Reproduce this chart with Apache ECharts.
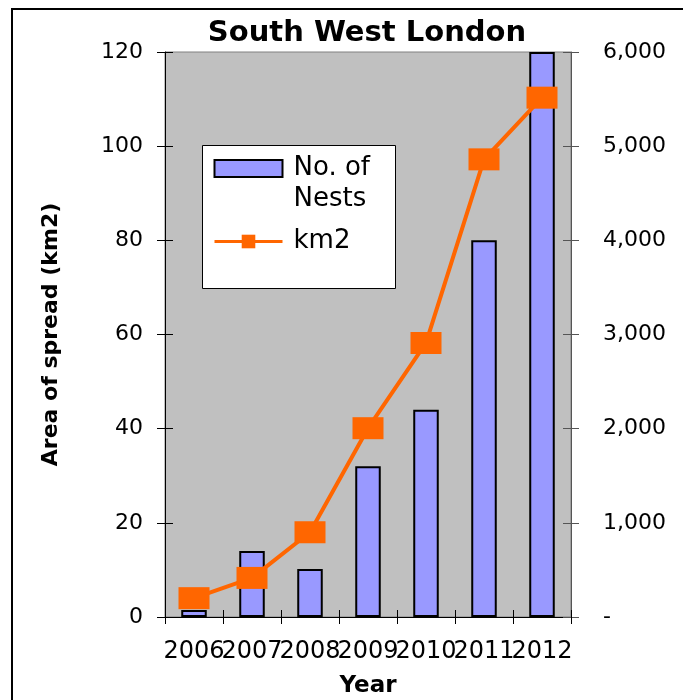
<html>
<head>
	<meta charset="utf-8">
	<style>html, body { margin: 0; padding: 0; background: #fff; }</style>
</head>
<body>
	<div id="main" style="width: 683px; height: 700px;"></div>
	<script src="https://cdn.jsdelivr.net/npm/echarts@6/dist/echarts.min.js"></script>
	<script>
		// data
		var years = ['2006', '2007', '2008', '2009', '2010', '2011', '2012'];
		var nests = [74, 700, 510, 1600, 2200, 4000, 6000];      // right axis
		var area = [4.0, 8.3, 18.0, 40.1, 58.2, 97.2, 110.3];    // left axis, km2
		var leftTicks = { min: 0, max: 120, interval: 20 };
		var rightTicks = { min: 0, max: 6000, interval: 1000 };

		var FONT = 'DejaVu Sans';
		var myChart = echarts.init(document.getElementById('main'), null, { renderer: 'canvas' });

		function tickAxis(pos, t) {
			// extra axis that only draws the inner half of the crossing ticks
			return {
				type: 'value', position: pos, min: t.min, max: t.max, interval: t.interval,
				axisLine: { show: false },
				axisTick: { show: true, inside: true, length: 8, lineStyle: { color: pos == 'left' ? '#000' : '#555' } },
				axisLabel: { show: false },
				splitLine: { show: false }
			};
		}

		var option = {
			animation: false,
			title: {
				text: 'South West London',
				left: 362, top: 14, textAlign: 'center',
				textStyle: { fontFamily: FONT, fontWeight: 'bold', fontSize: 29, color: '#000' }
			},
			graphic: [
				{ type: 'rect', shape: { x: 12, y: 9, width: 700, height: 720 }, style: { fill: null, stroke: '#000', lineWidth: 2 }, z: 0 },
				{ type: 'rect', shape: { x: 202.5, y: 145.5, width: 193, height: 143 }, style: { fill: '#fff', stroke: '#000', lineWidth: 1 }, z: 3 }
			],
			legend: {
				orient: 'vertical', left: 208, top: 117, z: 5,
				itemWidth: 68, itemHeight: 17, itemGap: 11,
				textStyle: { fontFamily: FONT, fontSize: 26, color: '#000', lineHeight: 31, padding: [0, 0, 0, 6] },
				data: [
					{ name: 'No. of Nests', icon: 'rect' },
					{ name: 'km2', lineStyle: { width: 3 } }
				],
				// leading blank line keeps the icon level with the first text line
				formatter: function (n) { return n == 'No. of Nests' ? ' \nNo. of\nNests' : n; }
			},
			grid: {
				left: 165, right: 112, top: 52, bottom: 83, outerBoundsMode: 'none',
				show: true, backgroundColor: '#c0c0c0', borderColor: '#808080', borderWidth: 1
			},
			xAxis: [
				{
					type: 'category', data: years,
					name: 'Year', nameLocation: 'middle', nameGap: 58,
					nameTextStyle: { fontFamily: FONT, fontWeight: 'bold', fontSize: 23, color: '#000' },
					axisLine: { lineStyle: { color: '#000', width: 1 } },
					axisTick: { show: true, length: 7, lineStyle: { color: '#000' } },
					axisLabel: { interval: 0, margin: 23, fontFamily: FONT, fontSize: 24, color: '#000' }
				},
				{
					// upper half of the crossing category ticks
					type: 'category', data: years, position: 'bottom',
					axisLine: { show: false },
					axisTick: { show: true, inside: true, length: 7, lineStyle: { color: '#000' } },
					axisLabel: { show: false }
				}
			],
			yAxis: [
				{
					type: 'value', position: 'left', min: leftTicks.min, max: leftTicks.max, interval: leftTicks.interval,
					name: 'Area of spread (km2)', nameLocation: 'middle', nameGap: 103,
					nameTextStyle: { fontFamily: FONT, fontWeight: 'bold', fontSize: 22, color: '#000' },
					axisLine: { show: true, lineStyle: { color: '#000' } },
					axisTick: { show: true, length: 8, lineStyle: { color: '#000' } },
					axisLabel: { margin: 22, fontFamily: FONT, fontSize: 22, color: '#000' },
					splitLine: { show: false }
				},
				{
					type: 'value', position: 'right', min: rightTicks.min, max: rightTicks.max, interval: rightTicks.interval,
					axisLine: { show: true, lineStyle: { color: '#555' } },
					axisTick: { show: true, length: 8, lineStyle: { color: '#555' } },
					axisLabel: {
						margin: 32, fontFamily: FONT, fontSize: 22, color: '#000',
						formatter: function (v) { return v == 0 ? '-' : v.toLocaleString('en-US'); }
					},
					splitLine: { show: false }
				},
				tickAxis('left', leftTicks),
				tickAxis('right', rightTicks)
			],
			series: [
				{
					name: 'No. of Nests', type: 'bar', yAxisIndex: 1, data: nests,
					barWidth: '44%', z: 2,
					itemStyle: { color: '#9999ff', borderColor: '#000', borderWidth: 2 }
				},
				{
					name: 'km2', type: 'line', yAxisIndex: 0, data: area, z: 4,
					symbol: 'rect', symbolSize: [31, 22],
					itemStyle: { color: '#ff6600' },
					lineStyle: { color: '#ff6600', width: 4 }
				}
			]
		};

		myChart.setOption(option);
	</script>
</body>
</html>
